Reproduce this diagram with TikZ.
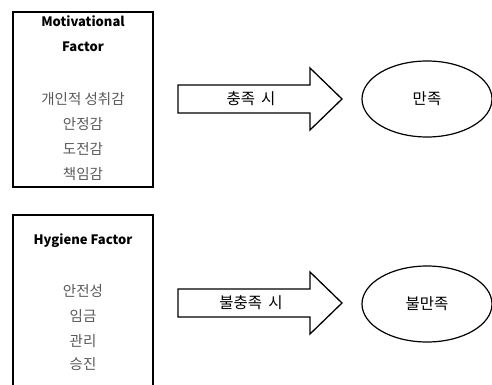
\documentclass[tikz,border=0pt]{standalone}
\usepackage{fontspec}
\setmainfont{Noto Sans CJK KR}
\usetikzlibrary{shapes.geometric}
\definecolor{itemgray}{HTML}{595959}
\tikzset{
  factorbox/.style={draw=black, line width=1.3pt},
  title/.style={font=\fontsize{13}{15}\selectfont\bfseries, text=black},
  item/.style={font=\fontsize{14.5}{16}\selectfont, text=itemgray},
  fatarrow/.style={draw=black, line width=1.3pt, fill=white, line join=miter},
  arrowlabel/.style={font=\fontsize{15.5}{17}\selectfont, text=black},
  outcome/.style={draw=black, line width=1.2pt, ellipse, minimum width=130pt, minimum height=76pt, font=\fontsize{15.5}{17}\selectfont}
}
\begin{document}
\begin{tikzpicture}[x=1pt,y=-1pt]
\useasboundingbox (0,0) rectangle (492,385);
% boxes
\draw[factorbox] (13,12) rectangle (153,187);
\draw[factorbox] (13,215) rectangle (153,400);
% box 1 text
\node[title] (m1) at (83,21) {Motivational};
\node[title] (m2) at (83,47) {Factor};
\node[item] (a1) at (83,99) {개인적 성취감};
\node[item] (a2) at (83,124) {안정감};
\node[item] (a3) at (83,149) {도전감};
\node[item] (a4) at (83,174) {책임감};
% box 2 text
\node[title] (h1) at (83,241) {Hygiene Factor};
\node[item] (b1) at (83,291) {안전성};
\node[item] (b2) at (83,316) {임금};
\node[item] (b3) at (83,341) {관리};
\node[item] (b4) at (83,364) {승진};
% arrow 1
\draw[fatarrow] (178,85) -- (310,85) -- (310,68) -- (342,99) -- (310,130) -- (310,113) -- (178,113) -- cycle;
\node[arrowlabel] (l1) at (251,99) {충족\hspace{0.4em}시};
% arrow 2
\draw[fatarrow] (178,289) -- (310,289) -- (310,272) -- (342,303) -- (310,334) -- (310,317) -- (178,317) -- cycle;
\node[arrowlabel] (l2) at (251,303) {불충족\hspace{0.4em}시};
% ellipses
\node[outcome] (s1) at (427,99) {만족};
\node[outcome] (s2) at (427,304) {불만족};
\end{tikzpicture}
\end{document}
